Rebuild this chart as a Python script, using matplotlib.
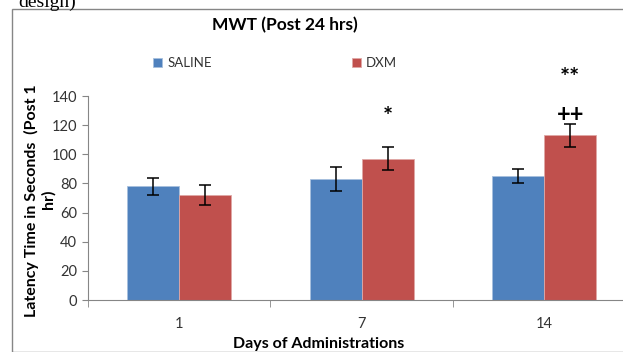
import numpy as np
import matplotlib
matplotlib.use("Agg")
import matplotlib.pyplot as plt
from matplotlib.patches import Rectangle

plt.rcParams["font.family"] = ["Lato", "DejaVu Sans"]

days = ["1", "7", "14"]
saline_mean = [78, 83, 85]
saline_sem = [6, 8, 5]
dxm_mean = [72, 97, 113]
dxm_sem = [7, 8, 8]
# significance marks over the DXM bars: (day index, label, y value)
sig_marks = [(1, "*", 125), (2, "++", 127), (2, "**", 152)]

BLUE, RED = "#4F81BD", "#C0504D"
GRAY = "#868686"

W, H = 623, 352
fig = plt.figure(figsize=(W / 100, H / 100), dpi=100)

# chart-area frame and the cut-off caption above it
fig.patches.append(Rectangle((12 / W, 0), 2, 1 - 9 / H, transform=fig.transFigure,
                             fill=False, edgecolor=GRAY, lw=1))
fig.text(18 / W, 1 - 7 / H, "design)", family="Liberation Serif", fontsize=14,
         va="baseline", ha="left")

ax = fig.add_axes([88 / W, 1 - 300 / H, 547.5 / W, 204 / H])
x = np.arange(len(days))
bw = 0.285
b1 = ax.bar(x - bw / 2, saline_mean, bw, color=BLUE, edgecolor="#A7C0DE", lw=0.6,
            label="SALINE", zorder=2)
b2 = ax.bar(x + bw / 2, dxm_mean, bw, color=RED, edgecolor="#DFA8A6", lw=0.6,
            label="DXM", zorder=2)
ax.errorbar(x - bw / 2, saline_mean, yerr=saline_sem, fmt="none", ecolor="black",
            elinewidth=1.1, capsize=4, capthick=1.1, zorder=3)
ax.errorbar(x + bw / 2, dxm_mean, yerr=dxm_sem, fmt="none", ecolor="black",
            elinewidth=1.1, capsize=4, capthick=1.1, zorder=3)

for i, lab, yv in sig_marks:
    ax.text(x[i] + bw / 2, yv, lab, ha="center", va="center", fontsize=17,
            fontweight="bold", clip_on=False)

ax.set_xlim(-0.5, 2.5)
ax.set_ylim(0, 140)
ax.set_yticks(np.arange(0, 141, 20))
ax.set_xticks(x)
ax.set_xticklabels(days)
ax.set_xticks([-0.5, 0.5, 1.5, 2.5], minor=True)
ax.tick_params(axis="x", which="major", length=0, pad=12)
ax.tick_params(axis="x", which="minor", length=5, color=GRAY)
ax.tick_params(axis="y", length=4, color=GRAY, pad=4)
ax.tick_params(labelsize=10.5, labelcolor="#333333")
for s in ["top", "right"]:
    ax.spines[s].set_visible(False)
for s in ["left", "bottom"]:
    ax.spines[s].set_color(GRAY)

fig.text(285 / W, 1 - 25 / H, "MWT (Post 24 hrs)", ha="center", va="center",
         fontsize=12.5, fontweight="bold")
fig.text(319 / W, 1 - 344 / H, "Days of Administrations", ha="center", va="center",
         fontsize=11.5, fontweight="bold")
# y label wraps in the original; its second line sits over the tick labels
fig.text(31 / W, 1 - 201 / H, "Latency Time in Seconds  (Post 1", rotation=90,
         ha="center", va="center", fontsize=11.5, fontweight="bold")
fig.text(48 / W, 1 - 199 / H, "hr)", rotation=90,
         ha="center", va="center", fontsize=11.5, fontweight="bold")

fig.legend(handles=[b1, b2], loc="center", bbox_to_anchor=(275 / W, 1 - 63 / H),
           ncol=2, frameon=False, fontsize=9.5, handlelength=0.7, handleheight=0.7,
           handletextpad=0.4, columnspacing=10.6, labelcolor="#333333")

fig.savefig("out.png", dpi=100)
